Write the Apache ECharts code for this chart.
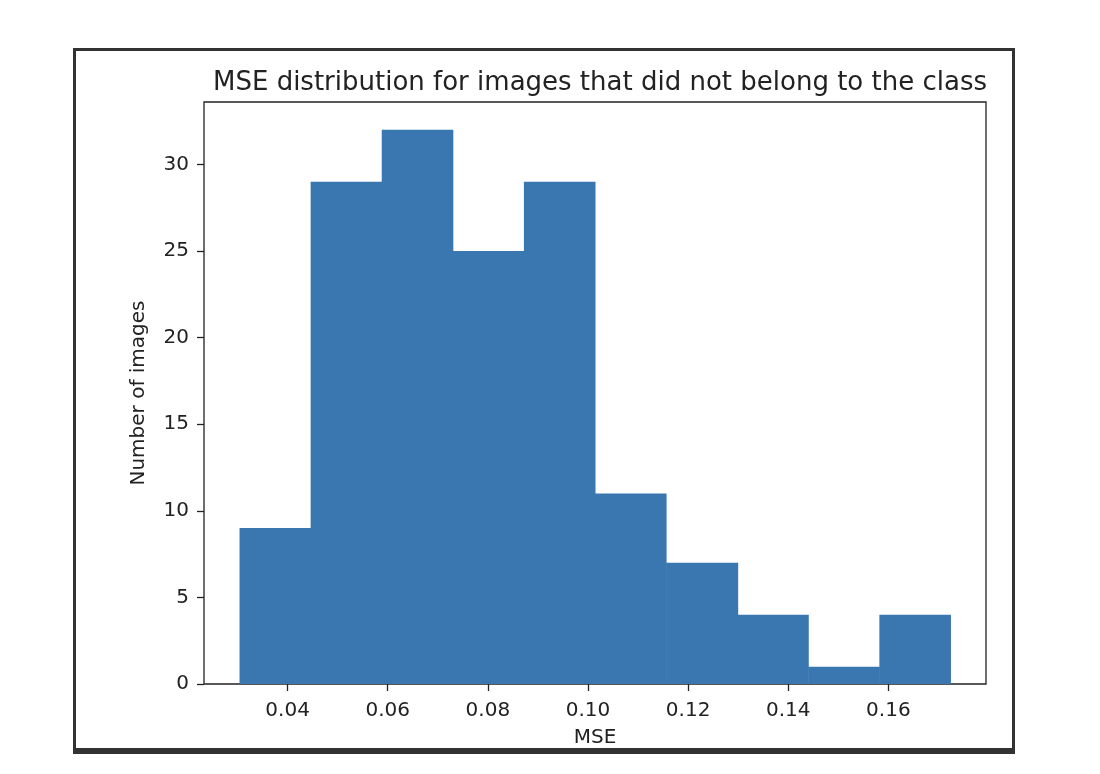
<!DOCTYPE html>
<html>
<head>
<meta charset="utf-8">
<script src="https://cdn.jsdelivr.net/npm/echarts@6/dist/echarts.min.js"></script>
<style>
    html, body { margin: 0; padding: 0; background: #fff; }
    #frame {
        position: absolute;
        left: 73px; top: 48px;
        width: 936px; height: 697px;
        border: 3px solid #333;
        border-bottom-width: 6px;
    }
    #chart { position: absolute; left: 0; top: 0; width: 1100px; height: 774px; }
</style>
</head>
<body>
<div id="frame"></div>
<div id="chart"></div>
<script>
// histogram bin edges (MSE) and counts per bin
var binEdges = [0.0304, 0.0446, 0.0588, 0.0730, 0.0872, 0.1014, 0.1156, 0.1299, 0.1440, 0.1582, 0.1724];
var binCounts = [9, 29, 32, 25, 29, 11, 7, 4, 1, 4];
var xTicks = [0.04, 0.06, 0.08, 0.10, 0.12, 0.14, 0.16];
var yTicks = [0, 5, 10, 15, 20, 25, 30];

var textColor = '#222';
var fontFamily = 'DejaVu Sans';

// matplotlib-style 5% margins on x, headroom on y
var span = binEdges[binEdges.length - 1] - binEdges[0];
var xMin = binEdges[0] - span * 0.05;
var xMax = binEdges[binEdges.length - 1] + span * 0.05;
var yMax = Math.max.apply(null, binCounts) * 1.05;

var bins = binCounts.map(function(c, i) {
    return [binEdges[i], binEdges[i + 1], c];
});

var chart = echarts.init(document.getElementById('chart'), null, { renderer: 'canvas' });

chart.setOption({
    backgroundColor: 'transparent',
    animation: false,
    title: {
        text: 'MSE distribution for images that did not belong to the class',
        left: 595,
        top: 65,
        textAlign: 'center',
        textStyle: { color: textColor, fontFamily: fontFamily, fontSize: 26, fontWeight: 'normal' }
    },
    grid: {
        left: 204, top: 102, right: 114, bottom: 90,
        show: true,
        borderColor: '#222',
        borderWidth: 1.3,
        backgroundColor: '#fff'
    },
    xAxis: {
        type: 'value',
        min: xMin,
        max: xMax,
        name: 'MSE',
        nameLocation: 'middle',
        nameGap: 44,
        nameTextStyle: { color: textColor, fontFamily: fontFamily, fontSize: 20 },
        splitLine: { show: false },
        axisLine: { show: false },
        axisTick: { show: true, length: 7, customValues: xTicks, lineStyle: { color: '#222', width: 1.3 } },
        axisLabel: {
            customValues: xTicks,
            margin: 17,
            color: textColor, fontFamily: fontFamily, fontSize: 20,
            formatter: function(v) { return v.toFixed(2); }
        }
    },
    yAxis: {
        type: 'value',
        min: 0,
        max: yMax,
        name: 'Number of images',
        nameLocation: 'middle',
        nameGap: 55,
        nameTextStyle: { color: textColor, fontFamily: fontFamily, fontSize: 20 },
        splitLine: { show: false },
        axisLine: { show: false },
        axisTick: { show: true, length: 7, customValues: yTicks, lineStyle: { color: '#222', width: 1.3 } },
        axisLabel: {
            customValues: yTicks,
            margin: 15,
            color: textColor, fontFamily: fontFamily, fontSize: 20
        }
    },
    series: [{
        type: 'custom',
        data: bins,
        encode: { x: [0, 1], y: 2 },
        renderItem: function(params, api) {
            var p0 = api.coord([api.value(0), api.value(2)]);
            var p1 = api.coord([api.value(1), 0]);
            return {
                type: 'rect',
                shape: { x: p0[0], y: p0[1], width: p1[0] - p0[0] + 0.5, height: p1[1] - p0[1] },
                style: { fill: '#3a77b0' }
            };
        }
    }]
});
</script>
</body>
</html>
